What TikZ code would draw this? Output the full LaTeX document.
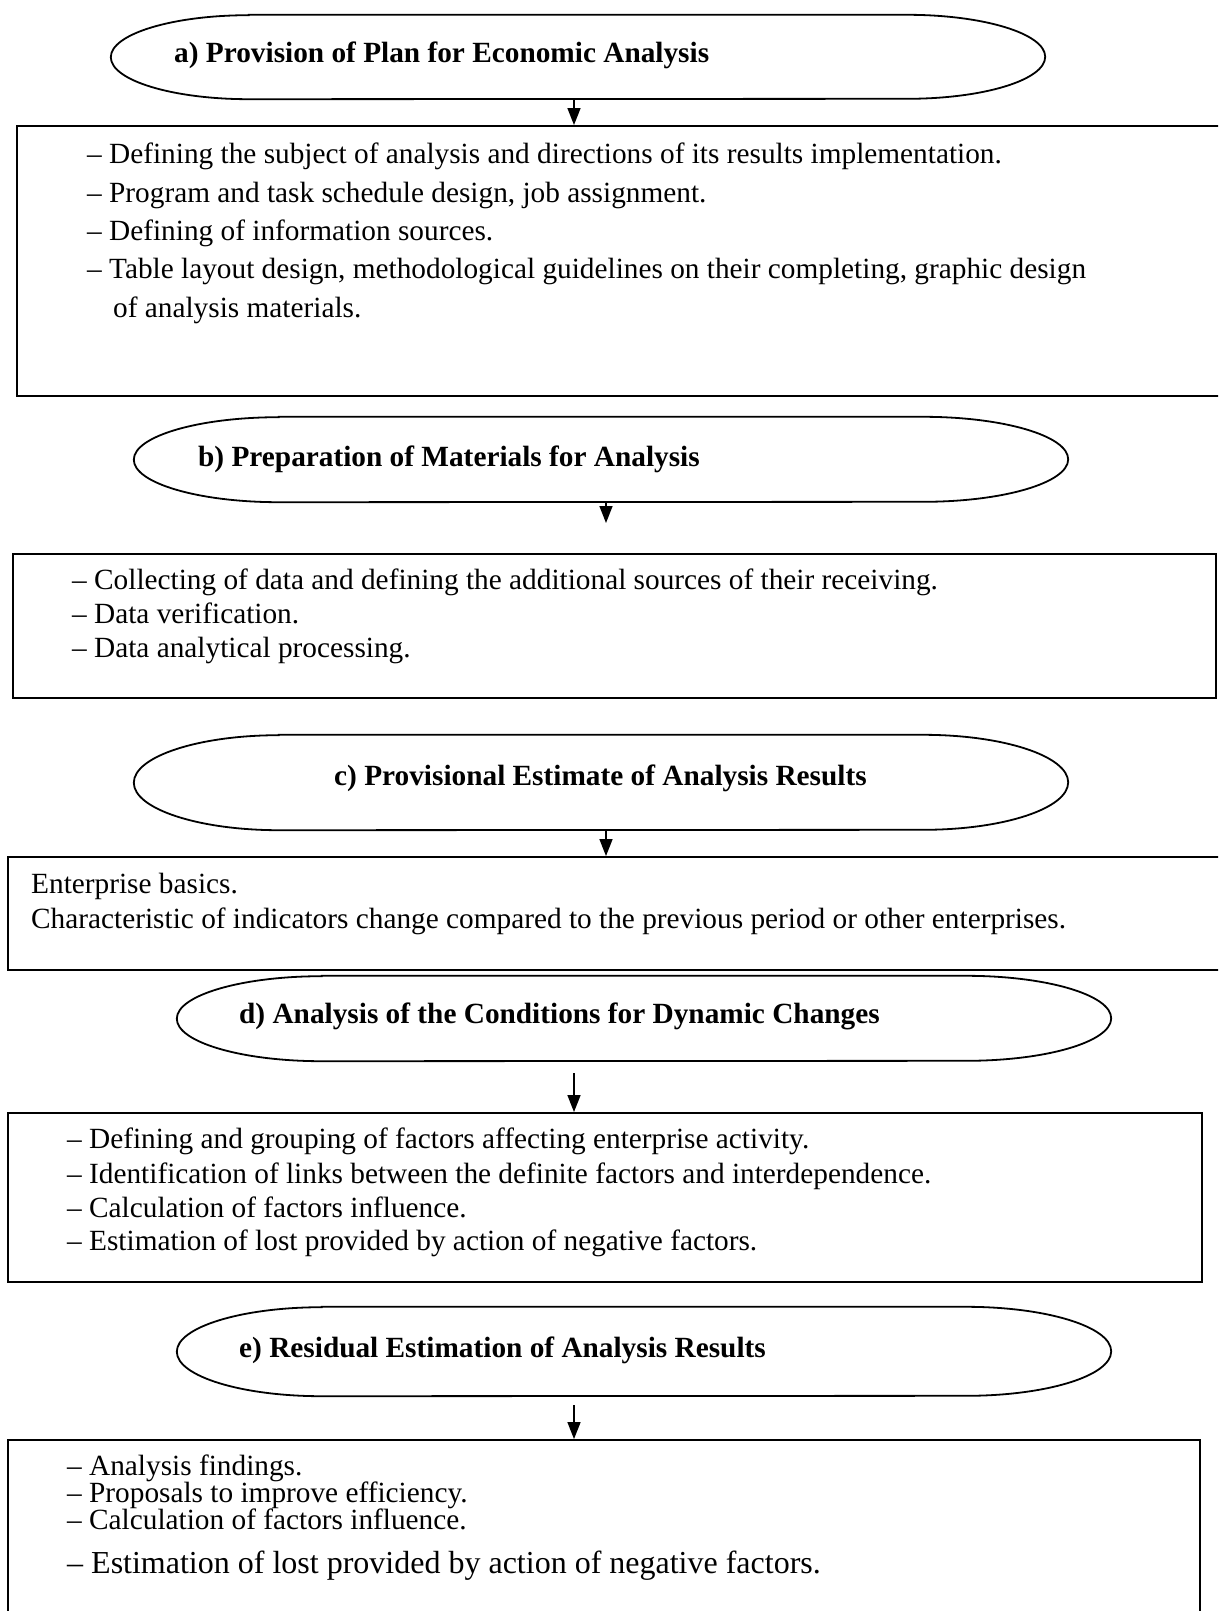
\documentclass[tikz,border=0pt]{standalone}
\usepackage{fontspec}
\setmainfont{Liberation Serif}
\usetikzlibrary{arrows.meta,calc}
\newcommand\drawcapsule[3]{%
  \draw[capline] ($(#1.north west)+(#2,0)$) -- ($(#1.north east)+(-#2,0)$)
    arc[start angle=90,end angle=-90,x radius=#2,y radius=#3]
    -- ($(#1.south west)+(#2,0)$)
    arc[start angle=270,end angle=90,x radius=#2,y radius=#3] -- cycle;}
\begin{document}
\begin{tikzpicture}[x=1pt,y=1pt,
  boxstyle/.style={draw, line width=1.9pt, rectangle, inner sep=0pt},
  capsule/.style={draw=none, rectangle, inner sep=0pt},
  capline/.style={line width=1.8pt},
  ttl/.style={anchor=base west, inner sep=0pt, font=\fontsize{29.3}{34}\selectfont\bfseries},
  ln/.style={anchor=base west, inner sep=0pt, font=\fontsize{29.3}{34}\selectfont},
  lnbig/.style={anchor=base west, inner sep=0pt, font=\fontsize{32}{37}\selectfont},
  arr/.style={line width=1.5pt, -{Triangle[length=17pt,width=13pt]}}
]
\useasboundingbox (0,0) rectangle (1218,-1611);
\clip (0,0) rectangle (1218,-1611);

% boxes
\node[boxstyle, minimum width=1213pt, minimum height=270pt] (ba) at (623.5,-261) {};
\node[boxstyle, minimum width=1203pt, minimum height=144pt] (bb) at (614.5,-626) {};
\node[boxstyle, minimum width=1222pt, minimum height=113pt] (bc) at (619,-913.5) {};
\node[boxstyle, minimum width=1194pt, minimum height=169pt] (bd) at (605,-1197.5) {};
\node[boxstyle, minimum width=1192pt, minimum height=200pt] (be) at (604,-1540) {};

% capsules
\node[capsule, minimum width=934pt, minimum height=84pt] (ea) at (578,-57) {};
\node[capsule, minimum width=934pt, minimum height=85pt] (eb) at (601,-459.5) {};
\node[capsule, minimum width=934pt, minimum height=95pt] (ec) at (601,-782.5) {};
\node[capsule, minimum width=934pt, minimum height=85pt] (ed) at (644,-1018.5) {};
\node[capsule, minimum width=934pt, minimum height=89pt] (ee) at (644,-1351.5) {};
\drawcapsule{ea}{138}{42}
\drawcapsule{eb}{145}{42.5}
\drawcapsule{ec}{145}{47.5}
\drawcapsule{ed}{145}{42.5}
\drawcapsule{ee}{145}{44.5}

% titles
\node[ttl] (tta) at (174,-63) {a) Provision of Plan for Economic Analysis};
\node[ttl] (ttb) at (198,-466) {b) Preparation of Materials for Analysis};
\node[ttl] (ttc) at (334,-785) {c) Provisional Estimate of Analysis Results};
\node[ttl] (ttd) at (239,-1023) {d) Analysis of the Conditions for Dynamic Changes};
\node[ttl] (tte) at (239,-1357) {e) Residual Estimation of Analysis Results};

% arrows
\coordinate (xa) at (574,0);
\draw[arr] (ea.south -| xa) -- (ba.north -| xa);
\coordinate (tipb) at (606,-523);
\draw[arr] (eb.south -| tipb) -- (tipb);
\coordinate (xc) at (606,0);
\draw[arr] (ec.south -| xc) -- (bc.north -| xc);
\coordinate (sd) at (574,-1073);
\draw[arr] (sd) -- (bd.north -| sd);
\coordinate (se) at (574,-1405);
\draw[arr] (se) -- (be.north -| se);

% box texts
\node[ln] (a1) at (87,-163) {– Defining the subject of analysis and directions of its results implementation.};
\node[ln] (a2) at (87,-202) {– Program and task schedule design, job assignment.};
\node[ln] (a3) at (87,-240) {– Defining of information sources.};
\node[ln] (a4) at (87,-278) {– Table layout design, methodological guidelines on their completing, graphic design};
\node[ln] (a5) at (113,-317) {of analysis materials.};

\node[ln] (b1) at (72,-589) {– Collecting of data and defining the additional sources of their receiving.};
\node[ln] (b2) at (72,-623) {– Data verification.};
\node[ln] (b3) at (72,-657) {– Data analytical processing.};

\node[ln] (c1) at (31,-893) {Enterprise basics.};
\node[ln] (c2) at (31,-928) {Characteristic of indicators change compared to the previous period or other enterprises.};

\node[ln] (d1) at (67,-1148) {– Defining and grouping of factors affecting enterprise activity.};
\node[ln] (d2) at (67,-1183) {– Identification of links between the definite factors and interdependence.};
\node[ln] (d3) at (67,-1217) {– Calculation of factors influence.};
\node[ln] (d4) at (67,-1250) {– Estimation of lost provided by action of negative factors.};

\node[ln] (e1) at (67,-1475) {– Analysis findings.};
\node[ln] (e2) at (67,-1502) {– Proposals to improve efficiency.};
\node[ln] (e3) at (67,-1529) {– Calculation of factors influence.};
\node[lnbig] (e4) at (67,-1573) {– Estimation of lost provided by action of negative factors.};
\end{tikzpicture}
\end{document}
